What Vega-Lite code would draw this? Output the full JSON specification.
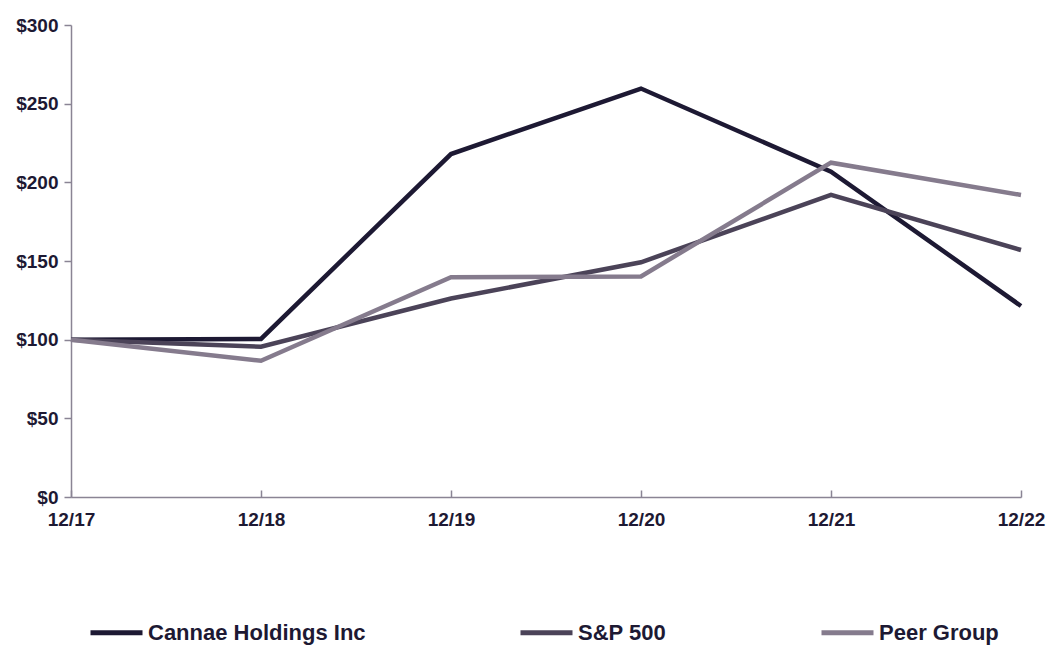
{
  "$schema": "https://vega.github.io/schema/vega-lite/v6.json",
  "width": 950,
  "height": 472,
  "autosize": {"type": "none"},
  "padding": {"left": 71, "top": 25, "right": 26, "bottom": 149},
  "background": "white",
  "config": {
    "view": {"stroke": null},
    "font": "Liberation Sans"
  },
  "data": {
    "values": [
      {"period": "12/17", "series": "Cannae Holdings Inc", "value": 100},
      {"period": "12/18", "series": "Cannae Holdings Inc", "value": 100.5},
      {"period": "12/19", "series": "Cannae Holdings Inc", "value": 218},
      {"period": "12/20", "series": "Cannae Holdings Inc", "value": 259.6},
      {"period": "12/21", "series": "Cannae Holdings Inc", "value": 206.8},
      {"period": "12/22", "series": "Cannae Holdings Inc", "value": 121.4},
      {"period": "12/17", "series": "S&P 500", "value": 100},
      {"period": "12/18", "series": "S&P 500", "value": 95.5},
      {"period": "12/19", "series": "S&P 500", "value": 126.2},
      {"period": "12/20", "series": "S&P 500", "value": 149.2},
      {"period": "12/21", "series": "S&P 500", "value": 192},
      {"period": "12/22", "series": "S&P 500", "value": 157},
      {"period": "12/17", "series": "Peer Group", "value": 100},
      {"period": "12/18", "series": "Peer Group", "value": 86.6},
      {"period": "12/19", "series": "Peer Group", "value": 139.7},
      {"period": "12/20", "series": "Peer Group", "value": 140.2},
      {"period": "12/21", "series": "Peer Group", "value": 212.5},
      {"period": "12/22", "series": "Peer Group", "value": 192}
    ]
  },
  "mark": {"type": "line", "strokeWidth": 4.5, "strokeJoin": "miter", "strokeCap": "butt"},
  "encoding": {
    "x": {
      "field": "period",
      "type": "ordinal",
      "sort": ["12/17", "12/18", "12/19", "12/20", "12/21", "12/22"],
      "scale": {"type": "point", "padding": 0},
      "axis": {
        "title": null,
        "labelAngle": 0,
        "labelFont": "Liberation Sans",
        "labelFontWeight": "bold",
        "labelFontSize": 19,
        "labelColor": "#1d1933",
        "labelPadding": 20,
        "labelOverlap": false,
        "domainColor": "#8a8494",
        "domainWidth": 1.5,
        "tickColor": "#8a8494",
        "tickWidth": 1.5,
        "tickSize": -7,
        "grid": false
      }
    },
    "y": {
      "field": "value",
      "type": "quantitative",
      "scale": {"domain": [0, 300], "nice": false},
      "axis": {
        "title": null,
        "values": [0, 50, 100, 150, 200, 250, 300],
        "format": "$.0f",
        "labelFont": "Liberation Sans",
        "labelFontWeight": "bold",
        "labelFontSize": 19,
        "labelColor": "#1d1933",
        "labelPadding": 6,
        "labelOverlap": false,
        "domainColor": "#8a8494",
        "domainWidth": 1.5,
        "tickColor": "#8a8494",
        "tickWidth": 1.5,
        "tickSize": 7,
        "grid": false
      }
    },
    "color": {
      "field": "series",
      "type": "nominal",
      "sort": ["Cannae Holdings Inc", "S&P 500", "Peer Group"],
      "scale": {
        "domain": ["Cannae Holdings Inc", "S&P 500", "Peer Group"],
        "range": ["#1d1933", "#4b4358", "#857b8d"]
      },
      "legend": {
        "title": null,
        "orient": "none",
        "legendX": 17,
        "legendY": 579,
        "padding": 0,
        "direction": "horizontal",
        "columns": 3,
        "columnPadding": 144,
        "symbolType": "stroke",
        "symbolSize": 2704,
        "symbolStrokeWidth": 5,
        "labelFont": "Liberation Sans",
        "labelFontWeight": "bold",
        "labelFontSize": 22,
        "labelColor": "#1d1933",
        "labelOffset": 3,
        "labelLimit": 400
      }
    }
  }
}
